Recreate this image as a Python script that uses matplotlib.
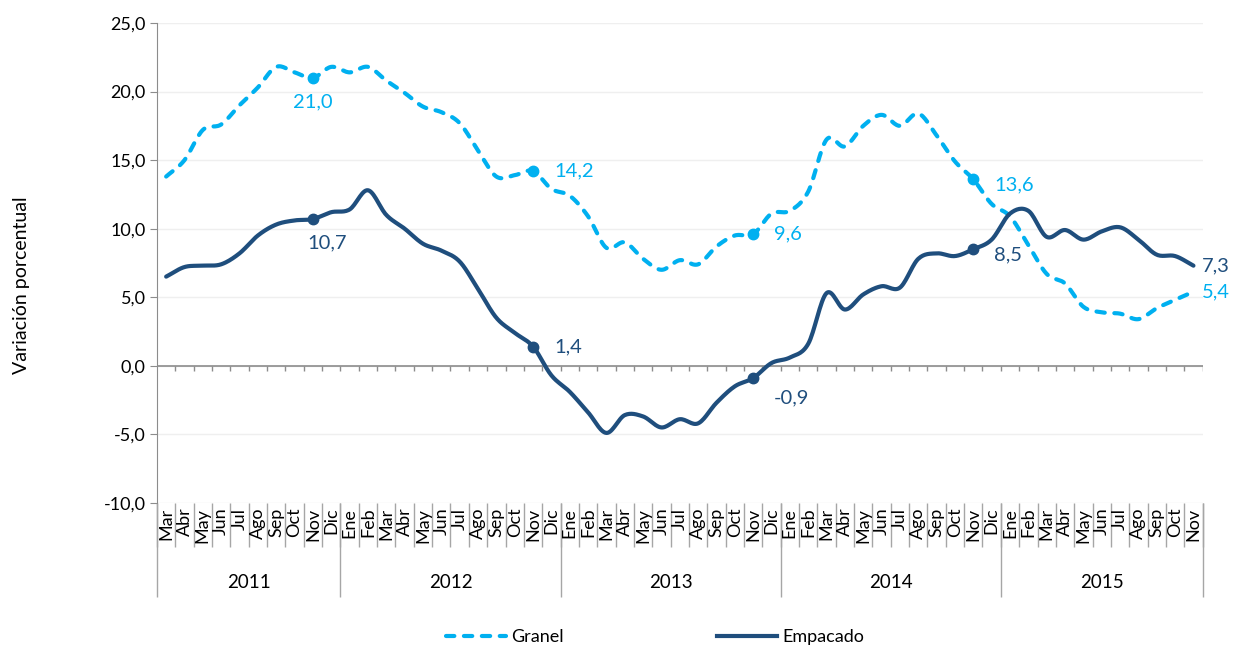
import numpy as np
import matplotlib.pyplot as plt
from matplotlib.ticker import FuncFormatter
from matplotlib.lines import Line2D

plt.rcParams['font.family'] = ['Lato', 'DejaVu Sans']

# months Mar 2011 .. Nov 2015
months = ['Mar', 'Abr', 'May', 'Jun', 'Jul', 'Ago', 'Sep', 'Oct', 'Nov', 'Dic',
          'Ene', 'Feb', 'Mar', 'Abr', 'May', 'Jun', 'Jul', 'Ago', 'Sep', 'Oct', 'Nov', 'Dic',
          'Ene', 'Feb', 'Mar', 'Abr', 'May', 'Jun', 'Jul', 'Ago', 'Sep', 'Oct', 'Nov', 'Dic',
          'Ene', 'Feb', 'Mar', 'Abr', 'May', 'Jun', 'Jul', 'Ago', 'Sep', 'Oct', 'Nov', 'Dic',
          'Ene', 'Feb', 'Mar', 'Abr', 'May', 'Jun', 'Jul', 'Ago', 'Sep', 'Oct', 'Nov']
years = ['2011', '2012', '2013', '2014', '2015']
year_len = [10, 12, 12, 12, 11]

granel = [13.8, 15.0, 17.2, 17.6, 19.0, 20.3, 21.8, 21.4, 21.0, 21.8,
          21.4, 21.8, 20.8, 19.9, 18.9, 18.5, 17.7, 15.7, 13.8, 13.9, 14.2, 12.9,
          12.4, 10.9, 8.6, 9.0, 7.8, 7.0, 7.7, 7.4, 8.7, 9.5, 9.6, 11.1,
          11.3, 12.7, 16.5, 16.0, 17.5, 18.3, 17.5, 18.4, 16.8, 14.9, 13.6, 11.8,
          10.9, 8.8, 6.7, 6.0, 4.3, 3.9, 3.8, 3.4, 4.2, 4.8, 5.4]
empacado = [6.5, 7.2, 7.3, 7.4, 8.2, 9.5, 10.3, 10.6, 10.7, 11.2,
            11.4, 12.8, 11.0, 10.0, 8.9, 8.4, 7.6, 5.6, 3.5, 2.4, 1.4, -0.7,
            -1.9, -3.4, -4.9, -3.6, -3.7, -4.5, -3.9, -4.2, -2.7, -1.5, -0.9, 0.2,
            0.6, 1.6, 5.3, 4.1, 5.2, 5.8, 5.7, 7.8, 8.2, 8.0, 8.5, 9.2,
            11.1, 11.3, 9.4, 9.9, 9.2, 9.8, 10.1, 9.2, 8.1, 8.0, 7.3]

labelled = [8, 20, 32, 44, 56]  # Nov of each year
dotted = [8, 20, 32, 44]  # last point has no marker

c_gran = '#00B0F0'
c_emp = '#1F4E7D'


def smooth(x, y, n=16):
    # catmull-rom curve through the points (like Excel's smoothed line)
    x = np.asarray(x, float)
    y = np.asarray(y, float)
    px = np.concatenate([[2 * x[0] - x[1]], x, [2 * x[-1] - x[-2]]])
    py = np.concatenate([[2 * y[0] - y[1]], y, [2 * y[-1] - y[-2]]])
    t = np.linspace(0, 1, n, endpoint=False)
    xs, ys = [], []
    for i in range(1, len(px) - 2):
        for p, out in ((px, xs), (py, ys)):
            p0, p1, p2, p3 = p[i - 1], p[i], p[i + 1], p[i + 2]
            out.extend(0.5 * (2 * p1 + (-p0 + p2) * t + (2 * p0 - 5 * p1 + 4 * p2 - p3) * t ** 2
                              + (-p0 + 3 * p1 - 3 * p2 + p3) * t ** 3))
    xs.append(x[-1])
    ys.append(y[-1])
    return np.array(xs), np.array(ys)


fig = plt.figure(figsize=(12.36, 6.48), dpi=100)
ax = fig.add_axes([0.127, 0.224, 0.846, 0.7405])

x = np.arange(len(months)) + 0.5
ax.set_xlim(0, len(months))
ax.set_ylim(-10, 25)

gx, gy = smooth(x, granel)
ax.plot(gx, gy, color=c_gran, lw=3, dashes=(2.0, 2.3), dash_capstyle='round', zorder=3)
ex, ey = smooth(x, empacado)
ax.plot(ex, ey, color=c_emp, lw=3, solid_capstyle='round', zorder=4)

ax.plot(x[dotted], np.array(granel)[dotted], 'o', color=c_gran, ms=7.5, zorder=5)
ax.plot(x[dotted], np.array(empacado)[dotted], 'o', color=c_emp, ms=7.5, zorder=5)

fmt = lambda v: f'{v:.1f}'.replace('.', ',')
# data labels (offsets in points)
g_off = [(0, -17, 'center'), (15, 0, 'left'), (15, 0, 'left'), (15, -4, 'left'), (6, 0, 'left')]
e_off = [(10, -17, 'center'), (15, 0, 'left'), (15, -14, 'left'), (15, -4, 'left'), (6, 0, 'left')]
for k, i in enumerate(labelled):
    dx, dy, ha = g_off[k]
    ax.annotate(fmt(granel[i]), (x[i], granel[i]), xytext=(dx, dy), textcoords='offset points',
                ha=ha, va='center', color=c_gran, fontsize=14.5)
    dx, dy, ha = e_off[k]
    ax.annotate(fmt(empacado[i]), (x[i], empacado[i]), xytext=(dx, dy), textcoords='offset points',
                ha=ha, va='center', color=c_emp, fontsize=14.5)

# axes styling
for s in ['top', 'right', 'bottom']:
    ax.spines[s].set_visible(False)
ax.spines['left'].set_color('#8C8C8C')
ax.set_yticks(np.arange(-10, 26, 5))
ax.yaxis.set_major_formatter(FuncFormatter(lambda v, p: fmt(v)))
ax.tick_params(axis='y', direction='out', length=5, color='#8C8C8C', labelsize=13, pad=3)
ax.set_xticks([])
ax.yaxis.grid(True, color='#EFEFEF', lw=1)
ax.set_axisbelow(True)

# horizontal axis at zero with tick marks between categories
ax.axhline(0, color='#8C8C8C', lw=1.2, zorder=2)
ax.vlines(np.arange(1, len(months) + 1), -0.38, 0, color='#8C8C8C', lw=1, zorder=2)

# multi-level category labels below the plot
trans = ax.get_xaxis_transform()
ax.vlines(np.arange(0, len(months) + 1), -0.092, 0, transform=trans, color='#A6A6A6', lw=1, clip_on=False)
for i, m in enumerate(months):
    ax.text(i + 0.5, -0.01, m, transform=trans, rotation=90, ha='center', va='top', fontsize=13)
start = 0
bounds = [0]
for yr, n in zip(years, year_len):
    ax.text(start + n / 2, -0.167, yr, transform=trans, ha='center', va='center', fontsize=13.5)
    start += n
    bounds.append(start)
ax.vlines(bounds, -0.197, 0, transform=trans, color='#A6A6A6', lw=1, clip_on=False)

fig.text(22 / 1236, 1 - 285 / 648, 'Variación porcentual', rotation=90, ha='center', va='center', fontsize=14)

handles = [Line2D([], [], color=c_gran, lw=3, dashes=(2.0, 2.3), dash_capstyle='round'),
           Line2D([], [], color=c_emp, lw=3)]
fig.legend(handles, ['Granel', 'Empacado'], loc='center', bbox_to_anchor=(655 / 1236, 1 - 637 / 648),
           ncol=2, frameon=False, fontsize=13, handlelength=3.3, columnspacing=8.5, handletextpad=0.3)

fig.savefig('out.png', dpi=100)
